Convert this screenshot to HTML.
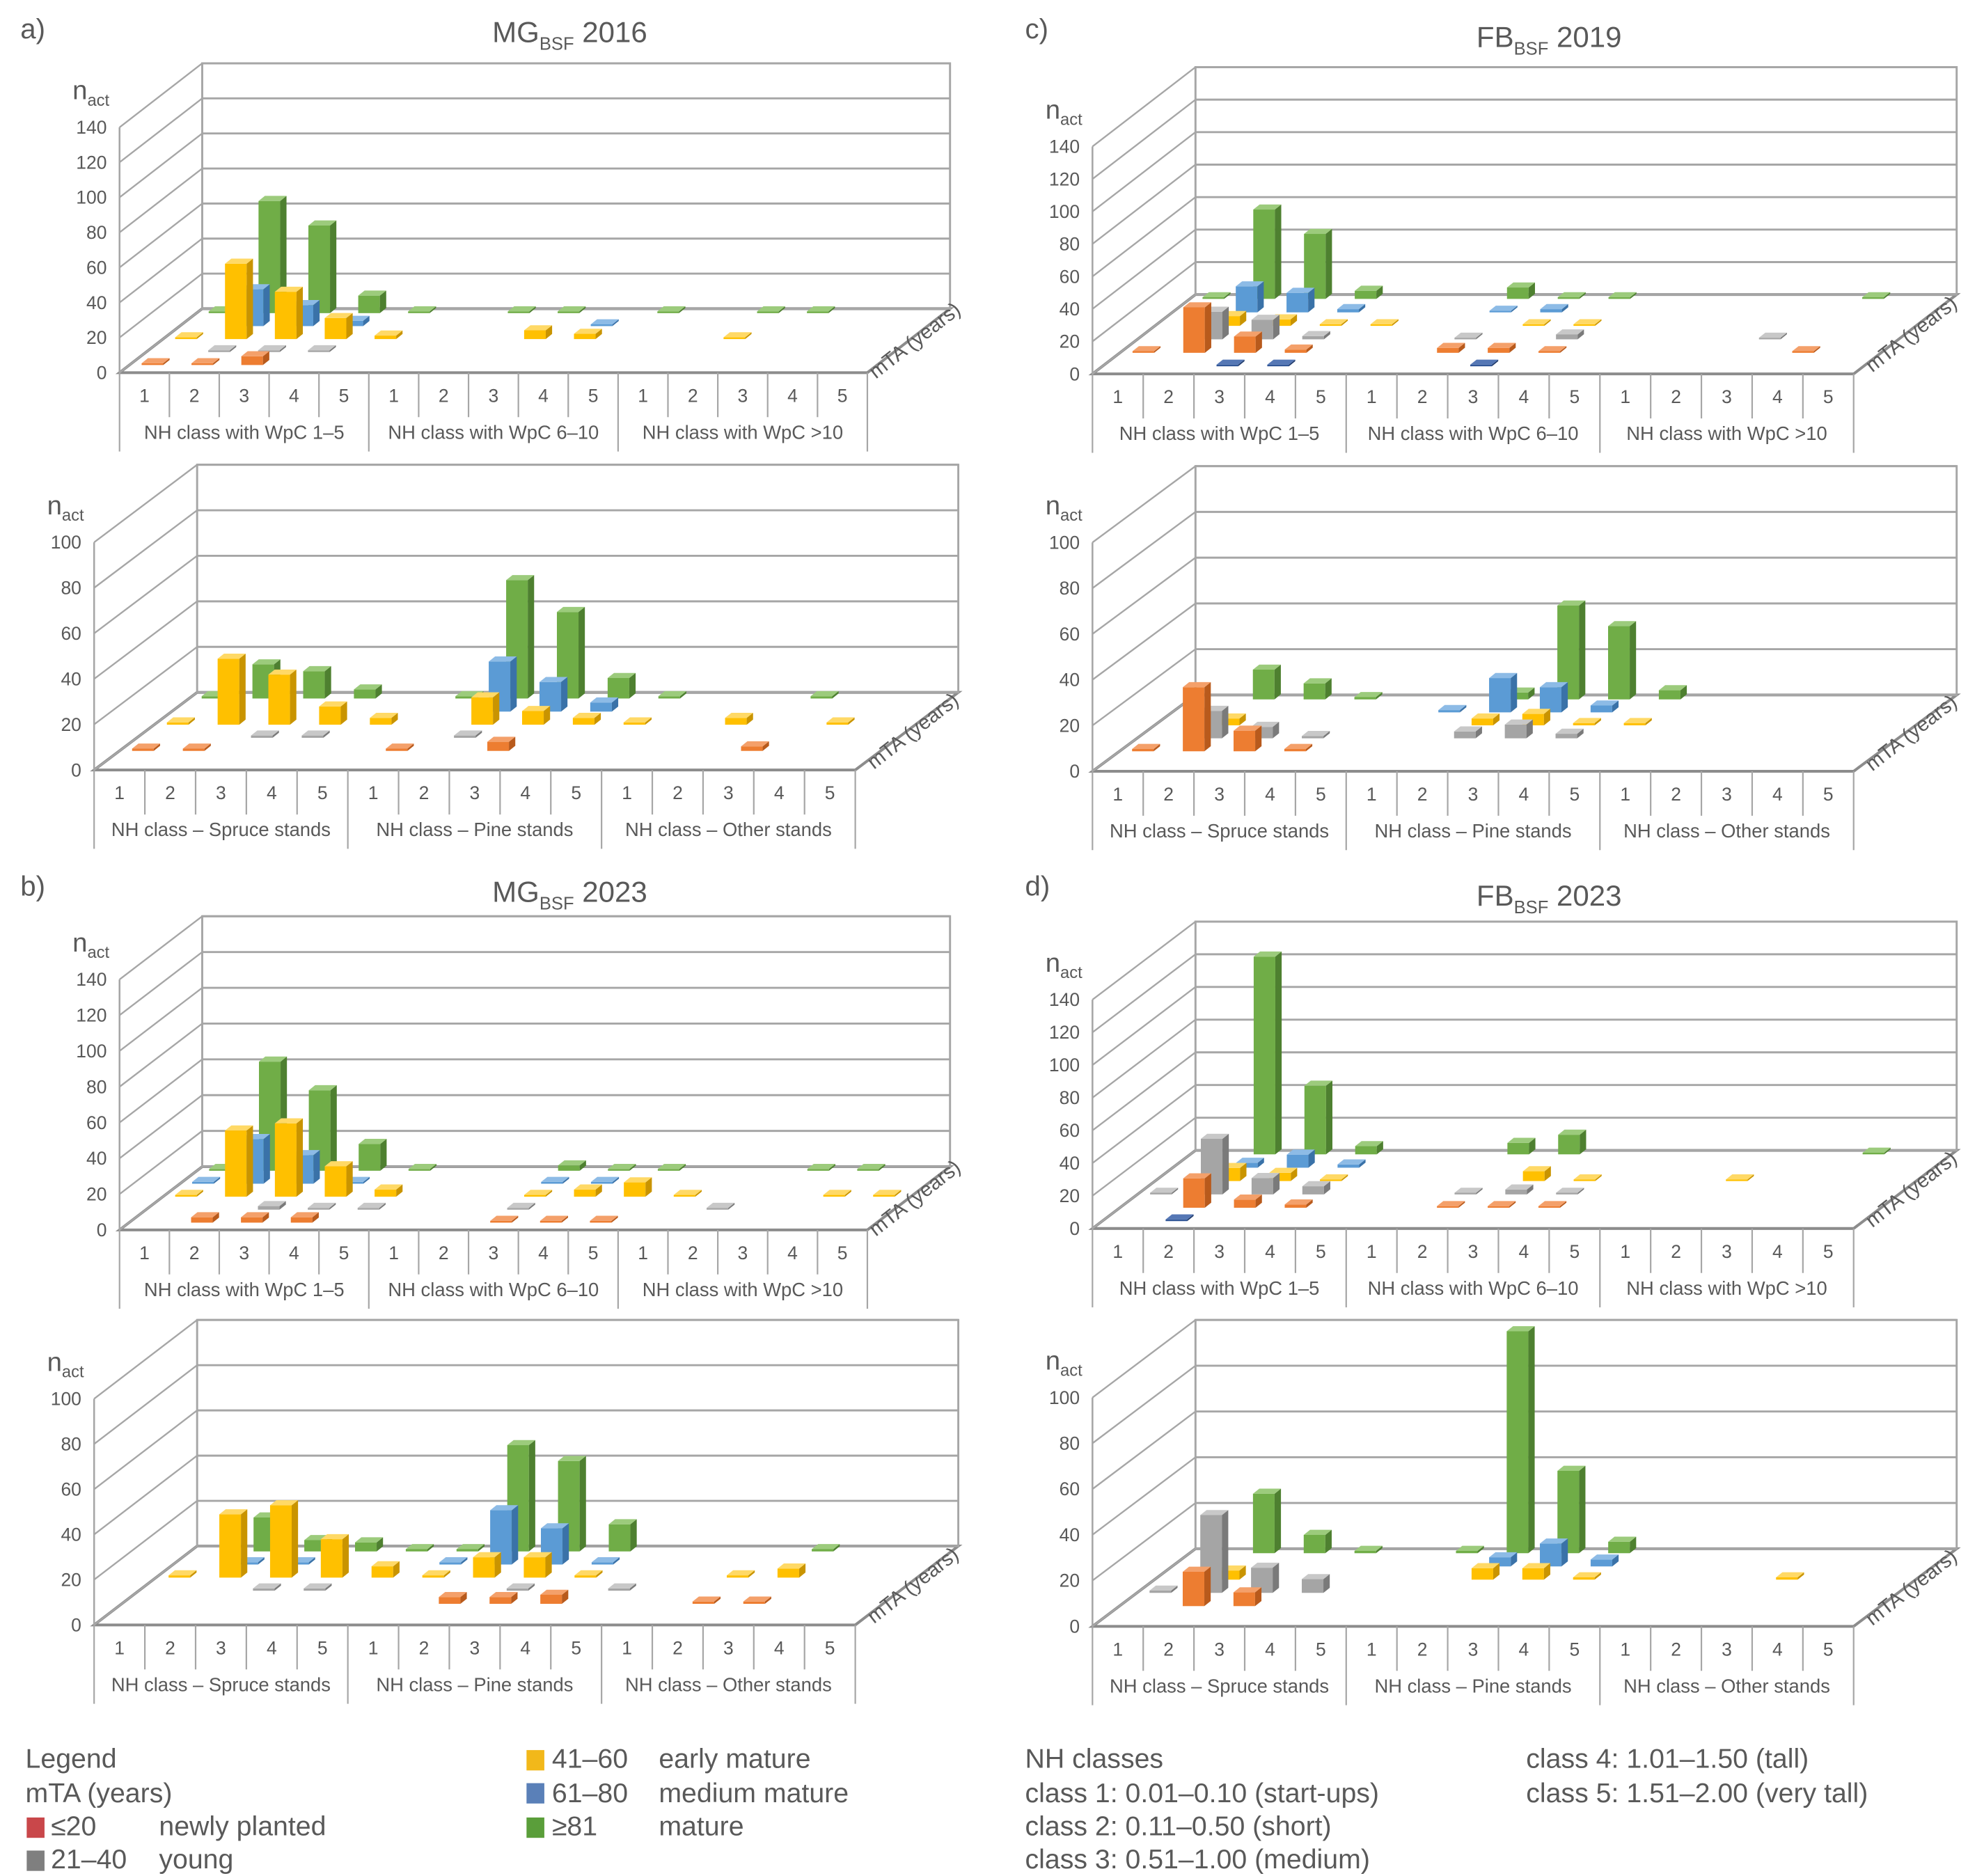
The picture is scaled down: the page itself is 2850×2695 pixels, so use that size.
<!DOCTYPE html>
<html><head><meta charset="utf-8">
<style>
html,body{margin:0;padding:0;background:#fff;}
svg{display:block;}
text{font-family:"Liberation Sans",Arial,sans-serif;fill:#595959;}
</style></head>
<body>
<svg id="chart" xmlns="http://www.w3.org/2000/svg" width="2850" height="2695" viewBox="0 0 1560 1475" preserveAspectRatio="none">
<rect x="0" y="0" width="1560" height="1475" fill="#fff"/>
<g id="legend" font-size="21.5">
  <text x="20" y="1390">Legend</text>
  <text x="20" y="1417">mTA (years)</text>
  <rect x="21" y="1429" width="14" height="16" fill="#c9474a"/>
  <text x="40" y="1443">≤20</text>
  <text x="125" y="1443">newly planted</text>
  <rect x="21" y="1455" width="14" height="16" fill="#7f7f7f"/>
  <text x="40" y="1469">21–40</text>
  <text x="125" y="1469">young</text>
  <rect x="414" y="1376" width="14" height="16" fill="#f2b81a"/>
  <text x="434" y="1390">41–60</text>
  <text x="518" y="1390">early mature</text>
  <rect x="414" y="1402" width="14" height="16" fill="#5a80b8"/>
  <text x="434" y="1417">61–80</text>
  <text x="518" y="1417">medium mature</text>
  <rect x="414" y="1429" width="14" height="16" fill="#5a9e3a"/>
  <text x="434" y="1443">≥81</text>
  <text x="518" y="1443">mature</text>
  <text x="806" y="1390">NH classes</text>
  <text x="806" y="1417">class 1: 0.01–0.10 (start-ups)</text>
  <text x="806" y="1443">class 2: 0.11–0.50 (short)</text>
  <text x="806" y="1469">class 3: 0.51–1.00 (medium)</text>
  <text x="1200" y="1390">class 4: 1.01–1.50 (tall)</text>
  <text x="1200" y="1417">class 5: 1.51–2.00 (very tall)</text>
</g>
</svg>
<script>
const _ = null;
const categories = ["1","2","3","4","5","1","2","3","4","5","1","2","3","4","5"];
const seriesNames = ["unclassified","le20","21-40","41-60","61-80","ge81"];
const yTicks140 = [0,20,40,60,80,100,120,140];
const yTicks100 = [0,20,40,60,80,100];
const groupsTop = ["NH class with WpC 1–5","NH class with WpC 6–10","NH class with WpC >10"];
const groupsBottom = ["NH class – Spruce stands","NH class – Pine stands","NH class – Other stands"];

// panel a top: MG 2016 WpC
const a1Navy   = [_,_,_,_,_,_,_,_,_,_,_,_,_,_,_];
const a1Red    = [1,1,5,_,_,_,_,_,_,_,_,_,_,_,_];
const a1Gray   = [_,1,1,1,_,_,_,_,_,_,_,_,_,_,_];
const a1Yellow = [1,43,27,12,2,_,_,5,3,_,_,1,_,_,_];
const a1Blue   = [_,21,12,3,_,_,_,_,1,_,_,_,_,_,_];
const a1Green  = [1,64,50,10,1,_,1,1,_,1,_,1,1,_,_];
// panel a bottom: MG 2016 stands
const a2Navy   = [_,_,_,_,_,_,_,_,_,_,_,_,_,_,_];
const a2Red    = [1,1,_,_,_,1,_,4,_,_,_,_,2,_,_];
const a2Gray   = [_,_,1,1,_,_,1,_,_,_,_,_,_,_,_];
const a2Yellow = [1,29,22,8,3,_,12,6,3,1,_,3,_,1,_];
const a2Blue   = [_,_,_,_,_,_,22,13,4,_,_,_,_,_,_];
const a2Green  = [1,15,12,4,_,1,52,38,9,1,_,_,1,_,_];
// panel c top: FB 2019 WpC
const c1Navy   = [_,_,1,1,_,_,_,1,_,_,_,_,_,_,_];
const c1Red    = [1,28,10,2,_,_,3,3,1,_,_,_,_,1,_];
const c1Gray   = [_,17,12,2,_,_,1,_,3,_,_,_,1,_,_];
const c1Yellow = [_,6,4,1,1,_,_,1,1,_,_,_,_,_,_];
const c1Blue   = [_,16,12,2,_,_,1,2,_,_,_,_,_,_,_];
const c1Green  = [1,55,40,5,_,_,7,1,1,_,_,_,_,1,_];
// panel c bottom: FB 2019 stands
const c2Navy   = [_,_,_,_,_,_,_,_,_,_,_,_,_,_,_];
const c2Red    = [1,28,9,1,_,_,_,_,_,_,_,_,_,_,_];
const c2Gray   = [_,12,5,1,_,_,3,6,2,_,_,_,_,_,_];
const c2Yellow = [_,3,_,_,_,_,3,5,1,1,_,_,_,_,_];
const c2Blue   = [_,_,_,_,_,1,15,11,3,_,_,_,_,_,_];
const c2Green  = [_,13,7,1,_,_,3,41,32,4,_,_,_,_,_];
// panel b top: MG 2023 WpC
const b1Navy   = [_,_,_,_,_,_,_,_,_,_,_,_,_,_,_];
const b1Red    = [_,3,3,3,_,_,_,1,1,1,_,_,_,_,_];
const b1Gray   = [_,_,2,1,1,_,_,1,_,_,_,1,_,_,_];
const b1Yellow = [1,37,41,17,4,_,_,1,4,8,1,_,_,1,1];
const b1Blue   = [1,25,16,1,_,_,_,1,1,_,_,_,_,_,_];
const b1Green  = [1,61,45,15,1,_,_,3,1,1,_,_,1,1,_];
// panel b bottom: MG 2023 stands
const b2Navy   = [_,_,_,_,_,_,_,_,_,_,_,_,_,_,_];
const b2Red    = [_,_,_,_,_,_,3,3,4,_,_,1,1,_,_];
const b2Gray   = [_,_,1,1,_,_,_,1,_,1,_,_,_,_,_];
const b2Yellow = [1,28,32,17,5,1,9,9,1,_,_,1,4,_,_];
const b2Blue   = [_,1,1,_,_,1,24,16,1,_,_,_,_,_,_];
const b2Green  = [_,15,5,4,1,1,47,40,12,_,_,_,1,_,_];
// panel d top: FB 2023 WpC
const d1Navy   = [_,1,_,_,_,_,_,_,_,_,_,_,_,_,_];
const d1Red    = [_,18,5,2,_,_,1,1,1,_,_,_,_,_,_];
const d1Gray   = [1,34,10,5,_,_,1,3,1,_,_,_,_,_,_];
const d1Yellow = [_,8,5,1,_,_,_,6,1,_,_,1,_,_,_];
const d1Blue   = [_,3,8,2,_,_,_,_,_,_,_,_,_,_,_];
const d1Green  = [_,121,42,5,_,_,7,12,_,_,_,_,_,1,_];
// panel d bottom: FB 2023 stands
const d2Navy   = [_,_,_,_,_,_,_,_,_,_,_,_,_,_,_];
const d2Red    = [_,15,6,_,_,_,_,_,_,_,_,_,_,_,_];
const d2Gray   = [1,34,11,6,_,_,_,_,_,_,_,_,_,_,_];
const d2Yellow = [_,4,_,_,_,_,5,5,1,_,_,_,1,_,_];
const d2Blue   = [_,_,_,_,_,_,4,10,3,_,_,_,_,_,_];
const d2Green  = [_,26,8,1,_,1,97,36,5,_,_,_,_,_,_];

const NS = "http://www.w3.org/2000/svg";
const svg = document.getElementById('chart');
const colors = [
  ["#2f5597","#1f3a6b","#5577b5"],
  ["#ed7d31","#b85a1c","#f4a06a"],
  ["#a5a5a5","#7a7a7a","#c8c8c8"],
  ["#ffc000","#c99400","#ffd966"],
  ["#5b9bd5","#3a72a8","#8dbbe6"],
  ["#70ad47","#4e8030","#9ccb7c"]
];
function mk(tag, attrs, parent){
  const e = document.createElementNS(NS, tag);
  for (const k in attrs) e.setAttribute(k, attrs[k]);
  (parent || svg).appendChild(e);
  return e;
}
const panels = [
  {id:"a-top", fx:94, fy:293, cw:39.2, dx:65, dy:-50.3, H:192.9, max:140, y0:4.2, sp:-10.2, groups:groupsTop, data:[a1Navy,a1Red,a1Gray,a1Yellow,a1Blue,a1Green]},
  {id:"a-bottom", fx:74, fy:605.4, cw:39.9, dx:81, dy:-61, H:179, max:100, y0:-4.7, sp:-10.3, groups:groupsBottom, data:[a2Navy,a2Red,a2Gray,a2Yellow,a2Blue,a2Green]},
  {id:"c-top", fx:859, fy:294, cw:39.9, dx:81, dy:-62.4, H:178.8, max:140, y0:-6, sp:-10.6, groups:groupsTop, data:[c1Navy,c1Red,c1Gray,c1Yellow,c1Blue,c1Green]},
  {id:"c-bottom", fx:859, fy:606.4, cw:39.9, dx:81, dy:-60, H:179.9, max:100, y0:-5.5, sp:-10.2, groups:groupsBottom, data:[c2Navy,c2Red,c2Gray,c2Yellow,c2Blue,c2Green]},
  {id:"b-top", fx:94, fy:967, cw:39.2, dx:65, dy:-49.7, H:196.9, max:140, y0:4.5, sp:-10.2, groups:groupsTop, data:[b1Navy,b1Red,b1Gray,b1Yellow,b1Blue,b1Green]},
  {id:"b-bottom", fx:74, fy:1277.6, cw:39.9, dx:81, dy:-62, H:177.8, max:100, y0:-6.3, sp:-10.3, groups:groupsBottom, data:[b2Navy,b2Red,b2Gray,b2Yellow,b2Blue,b2Green]},
  {id:"d-top", fx:859, fy:965.9, cw:39.9, dx:81, dy:-61.4, H:179.9, max:140, y0:-5.8, sp:-10.5, groups:groupsTop, data:[d1Navy,d1Red,d1Gray,d1Yellow,d1Blue,d1Green]},
  {id:"d-bottom", fx:859, fy:1278.7, cw:39.9, dx:81, dy:-61, H:179.9, max:100, y0:-5.5, sp:-10.4, groups:groupsBottom, data:[d2Navy,d2Red,d2Gray,d2Yellow,d2Blue,d2Green]}
];

function drawPanel(p){
  const g = mk('g', {});
  
  
  const W = p.cw * 15;
  const ticks = p.max === 140 ? yTicks140 : yTicks100;
  const ys = v => p.fy - v * p.H / p.max;
  const line = "#a6a6a6";
  const floor = mk('polygon', {points:`${p.fx},${p.fy} ${p.fx+W},${p.fy} ${p.fx+W+p.dx},${p.fy+p.dy} ${p.fx+p.dx},${p.fy+p.dy}`, fill:"#fff", stroke:"#8c8c8c", "stroke-width":2.2}, g);
  
  
  const wall = mk('rect', {x:p.fx+p.dx, y:p.fy+p.dy-p.H, width:W, height:p.H, fill:"none", stroke:line, "stroke-width":1.6}, g);
  
  
  ticks.forEach(v => {
    const y = ys(v);
    const gl = mk('line', {x1:p.fx+p.dx, y1:y+p.dy, x2:p.fx+p.dx+W, y2:y+p.dy, stroke:line, "stroke-width":1.6}, g);
    
    
    const sl = mk('line', {x1:p.fx, y1:y, x2:p.fx+p.dx, y2:y+p.dy, stroke:line, "stroke-width":1.3}, g);
    
    
    const t = mk('text', {x:p.fx-10, y:y+5, "text-anchor":"end", "font-size":14.5}, g);
    t.textContent = v;
    
    
  });
  const ax = mk('line', {x1:p.fx, y1:p.fy, x2:p.fx, y2:ys(p.max), stroke:line, "stroke-width":1.4}, g);
  
  
  const yt = mk('text', {x:p.fx-37, y:ys(p.max)-22, "font-size":21}, g);
  
  
  const t1 = mk('tspan', {}, yt); t1.textContent = "n";
  const t2 = mk('tspan', {"font-size":13, dy:5}, yt); t2.textContent = "act";
  for (let i = 0; i <= 15; i++) {
    const x = p.fx + i * p.cw;
    const long = (i % 5 === 0);
    const tk = mk('line', {x1:x, y1:p.fy, x2:x, y2:p.fy + (long ? 62 : 35), stroke:line, "stroke-width":1.2}, g);
    
    
  }
  categories.forEach((c, i) => {
    const t = mk('text', {x:p.fx + (i+0.5)*p.cw, y:p.fy+23, "text-anchor":"middle", "font-size":14.5}, g);
    t.textContent = c;
    
    
  });
  p.groups.forEach((gname, j) => {
    const t = mk('text', {x:p.fx + (j*5+2.5)*p.cw, y:p.fy+52, "text-anchor":"middle", "font-size":15}, g);
    t.textContent = gname;
    
    
  });
  const rx = p.fx + W + p.dx*0.5 + 8, ry = p.fy + p.dy*0.5 + 4;
  const mt = mk('text', {x:rx, y:ry, "text-anchor":"middle", "font-size":16, transform:`rotate(-38 ${rx} ${ry})`}, g);
  mt.textContent = "mTA (years)";
  
  
  const ratio = p.dx / -p.dy;
  const sc = p.H / p.max;
  for (let k = 5; k >= 0; k--) {
    const vals = p.data[k];
    const yoff = p.y0 + k * p.sp;
    const xoff = -yoff * ratio;
    const col = colors[k];
    vals.forEach((v, i) => {
      if (v === null) return;
      const cx = p.fx + (i+0.5)*p.cw + xoff;
      const by = p.fy + yoff;
      const h = Math.max(v * sc, 1.2);
      const bg = mk('g', {}, g);
      
      
      mk('rect', {x:cx-10, y:by-h, width:17, height:h, fill:col[0]}, bg);
      mk('polygon', {points:`${cx+7},${by} ${cx+7},${by-h} ${cx+12},${by-h-4} ${cx+12},${by-4}`, fill:col[1]}, bg);
      mk('polygon', {points:`${cx-10},${by-h} ${cx+7},${by-h} ${cx+12},${by-h-4} ${cx-5},${by-h-4}`, fill:col[2]}, bg);
    });
  }
}
panels.forEach(drawPanel);

const titles = [
  {x:448, y:33, a:"MG", b:"BSF", c:" 2016", n:"title-mg-2016"},
  {x:1218, y:37, a:"FB", b:"BSF", c:" 2019", n:"title-fb-2019"},
  {x:448, y:709, a:"MG", b:"BSF", c:" 2023", n:"title-mg-2023"},
  {x:1218, y:712, a:"FB", b:"BSF", c:" 2023", n:"title-fb-2023"}
];
titles.forEach(t => {
  const e = mk('text', {x:t.x, y:t.y, "text-anchor":"middle", "font-size":23});
  
  
  const s1 = mk('tspan', {}, e); s1.textContent = t.a;
  const s2 = mk('tspan', {"font-size":14, dy:6}, e); s2.textContent = t.b;
  const s3 = mk('tspan', {dy:-6}, e); s3.textContent = t.c;
});
const letters = [["a)",16,30],["c)",806,30],["b)",16,704],["d)",806,704]];
letters.forEach(l => {
  const e = mk('text', {x:l[1], y:l[2], "font-size":22});
  e.textContent = l[0];
  
  
});
</script>
</body></html>
